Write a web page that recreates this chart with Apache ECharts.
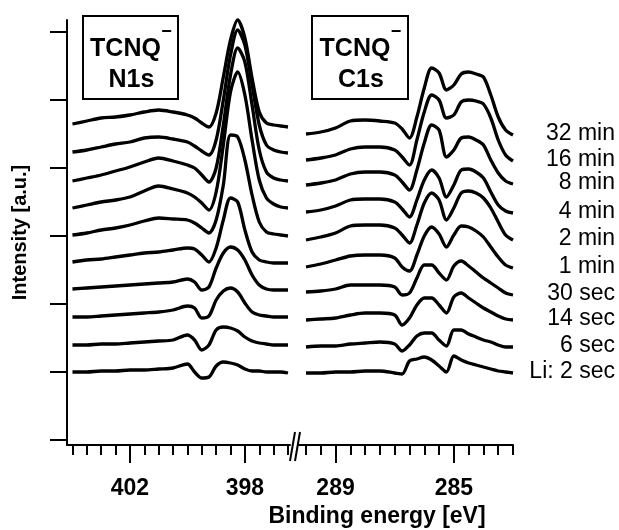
<!DOCTYPE html>
<html>
<head>
<meta charset="utf-8">
<script src="https://cdn.jsdelivr.net/npm/echarts@6/dist/echarts.min.js"></script>
<style>
  html, body { margin: 0; padding: 0; background: #fff; }
  #chart { width: 619px; height: 530px; }
</style>
</head>
<body>
<div id="chart"></div>
<script>
// time labels, bottom curve first
var labels = ['Li: 2 sec', '6 sec', '14 sec', '30 sec', '1 min', '2 min', '4 min', '8 min', '16 min', '32 min'];

// N1s binding energies [eV]
var n1sEnergy = [404.0, 403.5, 403.0, 402.5, 402.0, 401.5, 401.0, 400.5, 400.0, 399.75, 399.5, 399.25,
  399.0, 398.75, 398.5, 398.25, 398.0, 397.75, 397.5, 397.25, 397.0, 396.75, 396.5];
// N1s intensities (already stacked)
var n1s_2s  = [0, 0, 1, 1, 2, 2, 3, 4, 8, 0, -6, -5, 6, 10, 9, 7, 3, 1, 1, 0, 0, 0, -1];
var n1s_6s  = [27, 27, 28, 28, 29, 30, 31, 32, 37, 32, 22, 27, 42, 45, 44, 41, 35, 31, 29, 28, 27, 27, 27];
var n1s_14s = [55, 55, 56, 57, 58, 59, 60, 62, 66, 64, 54, 56, 72, 81, 84, 80, 69, 60, 57, 56, 55, 55, 55];
var n1s_30s = [83, 84, 85, 86, 87, 88, 89, 90, 93, 90, 82, 85, 104, 119, 125, 122, 112, 97, 87, 83, 82, 82, 82];
var n1s_1m  = [110, 112, 113, 115, 117, 119, 120, 122, 124, 123, 117, 110, 124, 152, 174, 170, 142, 120, 112, 110, 109, 109, 109];
var n1s_2m  = [137, 139, 142, 144, 147, 151, 154, 153, 152, 149, 144, 139, 152, 187, 237, 235, 212, 177, 150, 140, 138, 137, 136];
var n1s_4m  = [164, 167, 170, 172, 175, 181, 186, 183, 179, 175, 169, 162, 180, 227, 280, 300, 277, 232, 192, 174, 168, 165, 164];
var n1s_8m  = [191, 194, 197, 201, 205, 210, 214, 211, 207, 204, 197, 190, 204, 247, 297, 324, 310, 267, 222, 200, 194, 192, 191];
var n1s_16m = [220, 222, 225, 228, 230, 234, 235, 233, 230, 226, 221, 217, 232, 272, 317, 342, 327, 287, 247, 227, 222, 220, 219];
var n1s_32m = [248, 251, 254, 255, 257, 260, 262, 260, 257, 254, 249, 245, 259, 295, 332, 352, 334, 294, 260, 249, 247, 246, 245];

// C1s binding energies [eV]
var c1sEnergy = [290.0, 289.5, 289.0, 288.5, 288.0, 287.5, 287.0, 286.75, 286.5, 286.25, 286.0, 285.75,
  285.5, 285.25, 285.0, 284.75, 284.5, 284.25, 284.0, 283.75, 283.5, 283.25, 283.0];
var c1s_2s  = [-1, -1, 0, 0, 1, 1, -1, -2, 11, 13, 15, 12, 6, 0, 16, 12, 9, 7, 5, 3, 1, 0, -1];
var c1s_6s  = [25, 26, 26, 28, 29, 30, 28, 21, 27, 36, 39, 39, 32, 26, 42, 42, 38, 35, 32, 30, 27, 25, 25];
var c1s_14s = [52, 53, 54, 57, 59, 59, 57, 47, 54, 67, 74, 74, 67, 59, 75, 79, 74, 69, 64, 60, 56, 53, 52];
var c1s_30s = [80, 81, 83, 87, 87, 87, 85, 77, 79, 94, 107, 107, 99, 92, 106, 111, 106, 100, 94, 89, 84, 79, 77];
var c1s_1m  = [105, 108, 112, 116, 117, 117, 114, 105, 101, 117, 136, 145, 138, 125, 137, 146, 145, 141, 135, 125, 115, 107, 104];
var c1s_2m  = [132, 135, 139, 146, 147, 147, 144, 137, 129, 147, 169, 179, 172, 152, 164, 179, 181, 179, 174, 164, 150, 137, 132];
var c1s_4m  = [160, 162, 166, 172, 173, 173, 170, 163, 155, 172, 192, 202, 194, 175, 187, 202, 203, 200, 194, 180, 167, 161, 159];
var c1s_8m  = [187, 189, 192, 198, 200, 200, 197, 190, 182, 202, 229, 247, 242, 215, 222, 234, 235, 232, 227, 212, 199, 191, 188];
var c1s_16m = [212, 214, 217, 223, 225, 225, 222, 215, 207, 232, 260, 277, 272, 254, 257, 270, 272, 271, 268, 254, 232, 217, 211];
var c1s_32m = [238, 240, 244, 251, 252, 251, 249, 243, 234, 255, 284, 304, 299, 282, 287, 298, 300, 298, 295, 277, 255, 242, 237];

// ticks
var n1sMinorTicks = [396.5, 397, 397.5, 398, 398.5, 399, 399.5, 400, 400.5, 401, 401.5, 402, 402.5, 403, 403.5, 404];
var n1sMajorTicks = [398, 402];
var c1sMinorTicks = [283, 283.5, 284, 284.5, 285, 285.5, 286, 286.5, 287, 287.5, 288, 288.5, 289, 289.5, 290];
var c1sMajorTicks = [285, 289];
var yTicks = [-68, 0, 68, 136, 204, 272, 340];

var n1sCurves = [n1s_2s, n1s_6s, n1s_14s, n1s_30s, n1s_1m, n1s_2m, n1s_4m, n1s_8m, n1s_16m, n1s_32m];
var c1sCurves = [c1s_2s, c1s_6s, c1s_14s, c1s_30s, c1s_1m, c1s_2m, c1s_4m, c1s_8m, c1s_16m, c1s_32m];

var FONT = 'Liberation Sans, Arial, sans-serif';

function pairs(xs, ys) {
  return xs.map(function (x, i) { return [x, ys[i]]; });
}

function lineSeries(name, data, xi, yi) {
  return {
    type: 'line',
    name: name,
    data: data,
    xAxisIndex: xi,
    yAxisIndex: yi,
    showSymbol: false,
    smooth: 0.3,
    clip: false,
    lineStyle: { color: '#000', width: 3.3 },
    emphasis: { disabled: true }
  };
}

var series = [];
n1sCurves.forEach(function (c, i) {
  series.push(lineSeries('N1s ' + labels[i], pairs(n1sEnergy, c), 0, 0));
});
c1sCurves.forEach(function (c, i) {
  series.push(lineSeries('C1s ' + labels[i], pairs(c1sEnergy, c), 1, 1));
});

function minorAxis(grid, min, max, ticks, labelVals) {
  return {
    type: 'value', gridIndex: grid, inverse: true, min: min, max: max, position: 'bottom',
    axisLine: { show: true, onZero: false, lineStyle: { color: '#000', width: 2 } },
    axisTick: { show: true, customValues: ticks, length: 10, lineStyle: { color: '#000', width: 2 } },
    axisLabel: { show: true, customValues: labelVals, margin: 32, color: '#000',
      fontFamily: FONT, fontWeight: 'bold', fontSize: 23 },
    splitLine: { show: false }
  };
}
function majorAxis(grid, min, max, ticks) {
  return {
    type: 'value', gridIndex: grid, inverse: true, min: min, max: max, position: 'bottom', offset: 0,
    axisLine: { show: false, onZero: false },
    axisTick: { show: true, customValues: ticks, length: 18, lineStyle: { color: '#000', width: 2 } },
    axisLabel: { show: false },
    splitLine: { show: false }
  };
}

var option = {
  animation: false,
  backgroundColor: '#fff',
  grid: [
    { left: 67, right: 329, top: 20, bottom: 85 },
    { left: 298, right: 106, top: 20, bottom: 85 }
  ],
  xAxis: [
    minorAxis(0, 396.43, 404.19, n1sMinorTicks, n1sMajorTicks),
    minorAxis(1, 283, 290.27, c1sMinorTicks, c1sMajorTicks),
    majorAxis(0, 396.43, 404.19, n1sMajorTicks),
    majorAxis(1, 283, 290.27, c1sMajorTicks)
  ],
  yAxis: [
    {
      type: 'value', gridIndex: 0, min: -73, max: 352,
      axisLine: { show: true, onZero: false, lineStyle: { color: '#000', width: 2 } },
      axisTick: { show: true, customValues: yTicks, length: 17, lineStyle: { color: '#000', width: 2 } },
      axisLabel: { show: false },
      splitLine: { show: false },
      name: 'Intensity [a.u.]', nameLocation: 'middle', nameRotate: 90, nameGap: 37,
      nameTextStyle: { color: '#000', fontFamily: FONT, fontWeight: 'bold', fontSize: 20 }
    },
    {
      type: 'value', gridIndex: 1, min: -73, max: 352, show: false
    }
  ],
  series: series
};

var chart = echarts.init(document.getElementById('chart'), null, { renderer: 'canvas' });
chart.setOption(option);

function boxGroup(x, w, line2) {
  return {
    type: 'group',
    children: [
      { type: 'rect', shape: { x: x, y: 16, width: w, height: 83 },
        style: { fill: '#fff', stroke: '#000', lineWidth: 2 } },
      { type: 'text', x: x + w / 2 - 5, y: 49,
        style: { text: 'TCNQ', font: 'bold 25px ' + FONT, fill: '#000', textAlign: 'center', textVerticalAlign: 'middle' } },
      { type: 'text', x: x + w / 2 + 36, y: 32,
        style: { text: '\u2212', font: 'bold 18px ' + FONT, fill: '#000', textAlign: 'center', textVerticalAlign: 'middle' } },
      { type: 'text', x: x + w / 2 + 1, y: 80,
        style: { text: line2, font: 'bold 25px ' + FONT, fill: '#000', textAlign: 'center', textVerticalAlign: 'middle' } }
    ]
  };
}

var graphics = [
  boxGroup(83, 95, 'N1s'),
  boxGroup(312, 96, 'C1s'),
  { type: 'line', shape: { x1: 290, y1: 461, x2: 295, y2: 432 }, style: { stroke: '#000', lineWidth: 2 } },
  { type: 'line', shape: { x1: 295, y1: 461, x2: 300, y2: 432 }, style: { stroke: '#000', lineWidth: 2 } },
  { type: 'text', x: 377, y: 517,
    style: { text: 'Binding energy [eV]', font: 'bold 23px ' + FONT, fill: '#000', textAlign: 'center', textVerticalAlign: 'middle' } }
];

// time labels next to the end of each C1s curve
c1sCurves.forEach(function (c, i) {
  var last = c.length - 1;
  var p = chart.convertToPixel({ xAxisIndex: 1, yAxisIndex: 1 }, [c1sEnergy[last], c[last]]);
  graphics.push({ type: 'text', x: p[0] + 102, y: p[1] - 1,
    style: { text: labels[i], font: '23px ' + FONT, fill: '#000', textAlign: 'right', textVerticalAlign: 'middle' } });
});

chart.setOption({ graphic: graphics });
</script>
</body>
</html>
